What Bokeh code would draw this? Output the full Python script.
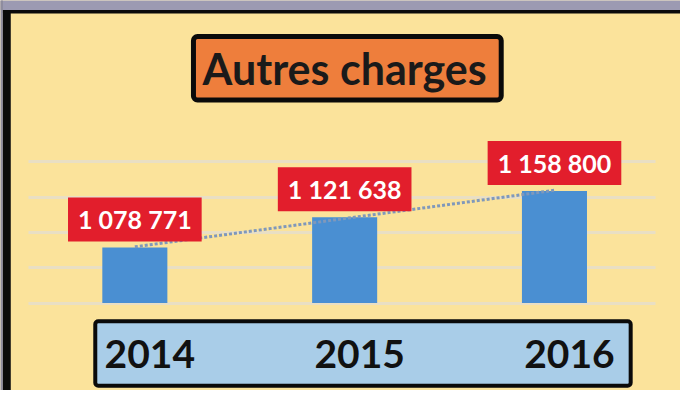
from bokeh.plotting import figure
from bokeh.models import Range1d, Grid, FixedTicker, BoxAnnotation, Label, ColumnDataSource
from bokeh.embed import file_html
from bokeh.resources import INLINE
from bokeh.core.properties import value
import numpy as np

# ---- data ----
years = ["2014", "2015", "2016"]
charges = [1078771, 1121638, 1158800]
grid_ticks = [1000000, 1050000, 1100000, 1150000, 1200000]
title_text = "Autres charges"

idx = list(range(len(years)))
labels = [f"{v:,}".replace(",", " ") for v in charges]
axis_min = grid_ticks[0]

# ---- layout helpers (reference pixel layout -> data space) ----
W, H = 680, 390
REF_W, REF_H = 696, 406
X0_PX, STEP_PX = 137.5, 214.75
BASE_PX, VPP = 315.0, (grid_ticks[-1] - grid_ticks[0]) / 147.0

def px_to_x(px):
    return (px - X0_PX) / STEP_PX

def px_to_y(py):
    return axis_min + (BASE_PX - py) * VPP

p = figure(width=W, height=H, output_backend="svg", toolbar_location=None,
           x_axis_type=None, y_axis_type=None,
           x_range=Range1d(px_to_x(0), px_to_x(REF_W)),
           y_range=Range1d(px_to_y(REF_H), px_to_y(0)),
           min_border=0)
p.background_fill_color = "#fbe39b"
p.border_fill_color = "#fbe39b"
p.outline_line_color = None

# gridlines
grid = Grid(dimension=1, ticker=FixedTicker(ticks=grid_ticks),
            grid_line_color="#e9dfc4", grid_line_width=3,
            cross_bounds=(px_to_x(29), px_to_x(670)))
p.add_layout(grid)

# frame decoration (photo border)
far_l, far_r = px_to_x(-50), px_to_x(800)
far_t, far_b = px_to_y(-50), px_to_y(500)
p.add_layout(BoxAnnotation(left=far_l, right=far_r, top=far_t, bottom=px_to_y(10),
                           fill_color="#9c9ab2", fill_alpha=1, line_alpha=0))
p.add_layout(BoxAnnotation(left=far_l, right=px_to_x(2.5), top=far_t, bottom=far_b,
                           fill_color="#8e8c9e", fill_alpha=1, line_alpha=0))
p.add_layout(BoxAnnotation(left=px_to_x(2.5), right=far_r, top=px_to_y(10), bottom=px_to_y(13.5),
                           fill_color="#0a0a0a", fill_alpha=1, line_alpha=0))
p.add_layout(BoxAnnotation(left=px_to_x(2.5), right=px_to_x(10.5), top=px_to_y(10), bottom=far_b,
                           fill_color="#0a0a0a", fill_alpha=1, line_alpha=0))

# bars
src = ColumnDataSource(dict(x=idx, top=charges, label=labels, year=years))
p.vbar(x="x", top="top", bottom=axis_min, width=0.31, source=src,
       fill_color="#4a8fd2", line_color=None)

# linear trendline
coef = np.polyfit(idx, charges, 1)
tx = [idx[0], idx[-1]]
ty = [coef[0] * t + coef[1] for t in tx]
p.line(tx, ty, line_color="#7f98bb", line_width=3, line_dash="3 2")

# data labels
p.text(x="x", y="top", text="label", source=src,
       text_font=value("Lato"), text_font_style="bold", text_font_size="25px",
       text_color="#ffffff", text_align="center", text_baseline="middle",
       y_offset=-28,
       background_fill_color="#e21e2c", background_fill_alpha=1,
       padding=(10, 7))

# title box
p.add_layout(BoxAnnotation(left=px_to_x(197.5), right=px_to_x(512.5),
                           top=px_to_y(37.5), bottom=px_to_y(103.5),
                           fill_color="#ee7e3c", fill_alpha=1,
                           line_color="#0a0a0a", line_alpha=1, line_width=5,
                           border_radius=4))
p.add_layout(Label(x=1, y=px_to_y(71), text=title_text,
                   text_font="Lato", text_font_style="bold", text_font_size="43px",
                   text_color="#1a1a1a", text_align="center", text_baseline="middle"))

# category box
p.add_layout(BoxAnnotation(left=px_to_x(97), right=px_to_x(645),
                           top=px_to_y(334), bottom=px_to_y(401),
                           fill_color="#a9cde8", fill_alpha=1,
                           line_color="#0a0a0a", line_alpha=1, line_width=4,
                           border_radius=3))
p.text(x="x", y=px_to_y(368), text="year", source=src, x_offset=15,
       text_font=value("Lato"), text_font_style="bold", text_font_size="39px",
       text_color="#111111", text_align="center", text_baseline="middle",
       level="overlay")

open("out.html", "w").write(file_html(p, INLINE))
